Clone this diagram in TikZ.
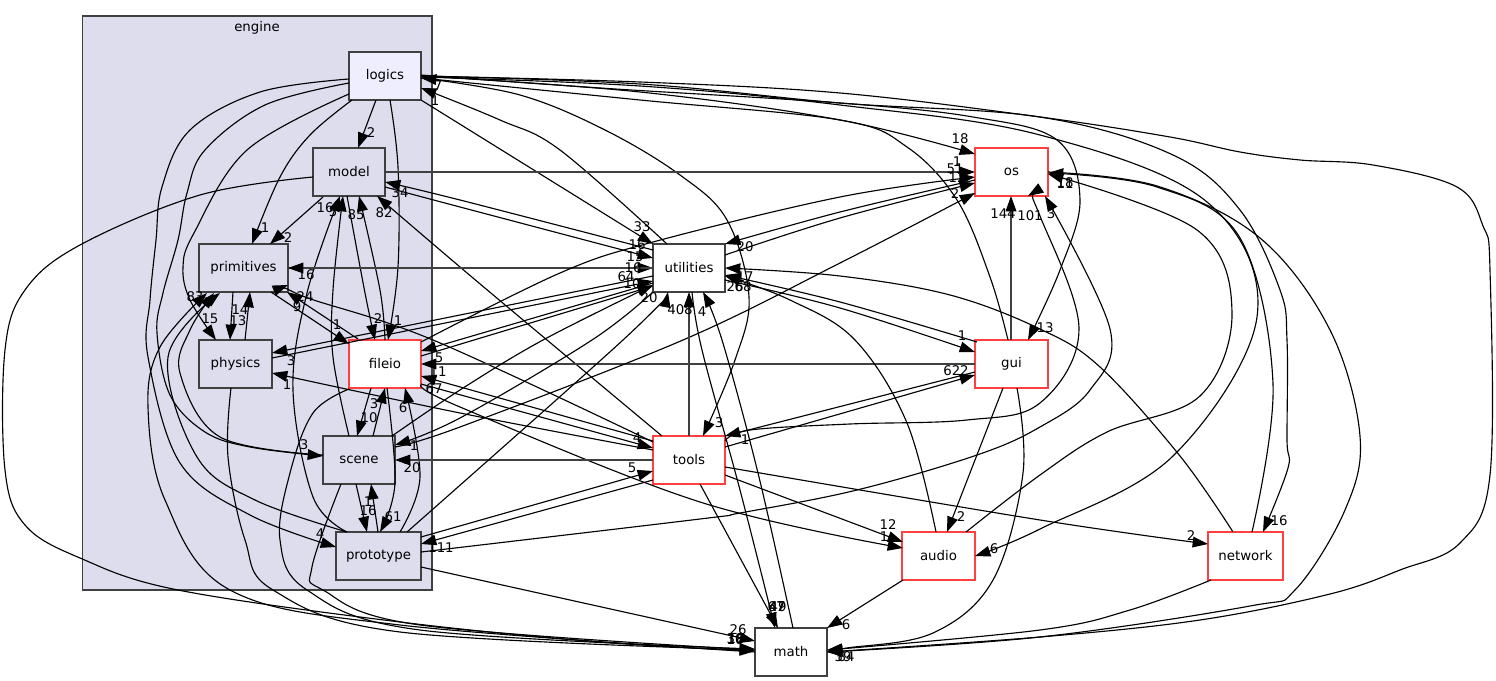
\documentclass[tikz,border=0pt]{standalone}
\usepackage{fontspec}
\setmainfont{DejaVu Sans}
\usetikzlibrary{arrows.meta}
\definecolor{clusterfill}{HTML}{DDDDEE}
\definecolor{logicfill}{HTML}{EEEEFF}
\definecolor{redline}{HTML}{FF4040}
\definecolor{boxline}{HTML}{404040}
\tikzset{
  dirbox/.style={draw=boxline,line width=1pt,inner sep=0pt,outer sep=0pt,minimum height=36pt,font=\fontsize{10}{12}\selectfont,text=black,align=center},
  inner/.style={dirbox,fill=clusterfill},
  topdir/.style={dirbox,fill=logicfill},
  redin/.style={dirbox,fill=white,draw=redline},
  plain/.style={dirbox,fill=white},
  edgeline/.style={draw=black,line width=0.85pt,-{Triangle[length=11.5pt,width=8pt]}},
  axisline/.style={draw=boxline,line width=1pt,-{Triangle[length=11.5pt,width=8pt,color=black,fill=black]}},
  lab/.style={inner sep=0pt,font=\fontsize{10}{12}\selectfont,text=black}
}
\newcount\labn
\newcommand\dirnode[6]{%
  \expandafter\gdef\csname cx#1\endcsname{#2}%
  \expandafter\gdef\csname cy#1\endcsname{#3}%
  \node[#5,minimum width=#4*0.75pt] (#1) at (#2,#3) {#6};}
\newcommand\Ed[7]{\draw[edgeline] plot[smooth,tension=0.6] coordinates {([shift={(#2-\csname cx#1\endcsname,#3-\csname cy#1\endcsname)}]#1.center) #4 ([shift={(#6-\csname cx#5\endcsname,#7-\csname cy#5\endcsname)}]#5.center)};}
\newcommand\Ev[6]{\draw[axisline] ([shift={(#2-\csname cx#1\endcsname,#3-\csname cy#1\endcsname)}]#1.center) -- ([shift={(#5-\csname cx#4\endcsname,#6-\csname cy#4\endcsname)}]#4.center);}
\newcommand\Lb[3]{\global\advance\labn by 1 \node[lab] (lab\the\labn) at (#1,#2) {#3};}
\begin{document}
\begin{tikzpicture}[x=0.75pt,y=-0.75pt]
\useasboundingbox (0,0) rectangle (1496,681);
\node[draw=boxline,line width=1pt,fill=clusterfill,inner sep=0pt,outer sep=0pt,minimum width=262.1pt,minimum height=430.5pt] (engine) at (257.25,303) {};
\node[lab] (enginetitle) at (257,28) {engine};
\dirnode{logics}{385}{76}{72}{topdir}{logics}
\dirnode{model}{349}{172}{72}{inner}{model}
\dirnode{primitives}{243.5}{268}{89}{inner}{primitives}
\dirnode{physics}{235.5}{364}{73}{inner}{physics}
\dirnode{fileio}{385}{364}{72}{redin}{fileio}
\dirnode{scene}{359}{460}{72}{inner}{scene}
\dirnode{prototype}{378.5}{556}{85}{inner}{prototype}
\dirnode{utilities}{689}{268}{72}{plain}{utilities}
\dirnode{os}{1011.5}{172}{73}{redin}{os}
\dirnode{gui}{1011.5}{364}{73}{redin}{gui}
\dirnode{tools}{689}{460}{72}{redin}{tools}
\dirnode{audio}{938.5}{556}{73}{redin}{audio}
\dirnode{network}{1245.5}{556}{75}{redin}{network}
\dirnode{math}{791}{652}{72}{plain}{math}
% logics
\Ed{logics}{349}{79}{(260,92) (190,130) (162,187) (156,240) (150,300) (148,357) (180,463) (250,515)}{prototype}{336}{547}
\Ed{logics}{349}{83}{(265,105) (205,150) (187,193) (178,240) (163,293) (157,333) (170,395) (205,432) (250,447)}{scene}{323}{456}
\Ed{logics}{349}{94}{(247,150) (194,233) (183,267) (190,300)}{physics}{216}{340}
\Ed{logics}{352}{100}{(310,135) (280,177)}{primitives}{252}{244}
\Ed{logics}{376}{100}{}{model}{358}{148}
\Ed{logics}{390}{100}{(398,167) (398,267)}{fileio}{388}{340}
\Ed{logics}{421}{75}{(600,88) (840,103) (973,117) (1057,140) (1080,200) (1060,270)}{gui}{1028}{340}
\Ed{logics}{421}{76}{(640,92) (840,120)}{os}{975}{154}
\Ed{logics}{421}{100}{}{utilities}{653}{244}
\Ed{logics}{421}{78}{(520,95) (605,130) (680,175) (727,220) (749,297) (735,360)}{tools}{703}{436}
\Ed{logics}{421}{76}{(640,82) (840,93) (1040,117) (1170,137) (1240,152) (1300,160) (1373,165) (1457,187) (1483,226) (1490,270) (1490,475) (1460,543) (1400,570) (1330,594) (1200,620) (1040,637)}{math}{827}{652}
\Ed{logics}{421}{76}{(640,84) (840,103) (1040,117) (1173,155) (1240,210) (1280,290) (1287,340) (1287,440) (1288,468)}{network}{1263}{532}
\Ed{logics}{421}{77}{(640,86) (840,105) (1040,135) (1207,202) (1257,317) (1173,456) (1040,529)}{audio}{975}{556}
\Ed{gui}{1008}{340}{(990,277) (957,200) (907,147) (840,120) (640,100)}{logics}{421}{78}
\Ed{utilities}{667}{244}{(560,150) (500,120)}{logics}{421}{88}
% model
\Ev{model}{385}{172}{os}{975}{172}
\Ed{model}{313}{177}{(200,195) (80,245) (25,290) (5,350) (5,470) (25,525) (80,558) (178,590) (400,622) (600,642)}{math}{755}{651}
\Ed{model}{323}{197}{}{primitives}{270}{244}
\Ed{model}{347}{196}{(365,293)}{fileio}{375}{340}
\Ed{fileio}{385}{340}{(380,290)}{model}{359}{196}
\Ed{prototype}{347}{532}{(313,497) (293,390) (307,293)}{model}{340}{196}
\Ed{scene}{349}{436}{(333,357) (333,290)}{model}{343}{196}
\Ed{tools}{662}{436}{(547,340) (460,267)}{model}{377}{196}
\Ed{utilities}{653}{250}{(460,200)}{model}{385}{182}
\Ed{model}{385}{187}{(460,207)}{utilities}{653}{258}
% primitives
\Ev{primitives}{288}{268}{utilities}{653}{268}
\Ev{utilities}{653}{268}{primitives}{288}{268}
\Ed{primitives}{233}{292}{}{physics}{230}{340}
\Ed{physics}{245}{340}{}{primitives}{250}{292}
\Ed{primitives}{271}{292}{}{fileio}{349}{344}
\Ed{fileio}{358}{339}{}{primitives}{287}{292}
\Ed{tools}{653}{442}{(433,340) (305,297)}{primitives}{288}{285}
\Ed{math}{755}{652}{(400,625) (230,590) (165,500) (148,407) (160,347)}{primitives}{207}{293}
\Ed{scene}{323}{455}{(220,437) (180,373) (190,330)}{primitives}{214}{293}
\Ed{prototype}{347}{532}{(255,500) (197,457) (168,357)}{primitives}{220}{293}
% physics
\Ed{physics}{231}{388}{(228,457) (245,540) (273,590) (400,632)}{math}{755}{650}
\Ed{utilities}{653}{276}{}{physics}{272}{353}
\Ed{physics}{272}{358}{}{utilities}{653}{281}
\Ed{tools}{653}{450}{(460,413)}{physics}{272}{373}
% fileio
\Ed{fileio}{371}{388}{}{scene}{357}{436}
\Ed{scene}{373}{436}{}{fileio}{385}{388}
\Ed{fileio}{387}{388}{(395,483)}{prototype}{380}{532}
\Ed{prototype}{400}{532}{(420,477)}{fileio}{405}{388}
\Ed{fileio}{349}{389}{(313,413) (290,473) (280,540) (307,590) (420,630)}{math}{755}{649}
\Ed{fileio}{421}{356}{}{utilities}{653}{286}
\Ed{utilities}{653}{283}{}{fileio}{421}{351}
\Ed{fileio}{421}{342}{(560,273) (653,242) (840,197)}{os}{975}{177}
\Ed{tools}{653}{441}{}{fileio}{421}{376}
\Ed{fileio}{421}{384}{}{tools}{653}{448}
\Ed{fileio}{421}{385}{(460,407) (700,502)}{audio}{903}{548}
\Ev{gui}{975}{364}{fileio}{421}{364}
% scene
\Ed{scene}{341}{484}{(312,567) (323,590) (420,625)}{math}{755}{650}
\Ed{scene}{356}{484}{}{prototype}{367}{532}
\Ed{prototype}{378}{532}{}{scene}{371}{484}
\Ev{tools}{653}{460}{scene}{395}{460}
\Ed{utilities}{653}{292}{(592,340) (460,418)}{scene}{395}{445}
\Ed{scene}{392}{436}{(460,390) (543,340)}{utilities}{653}{285}
\Ed{scene}{395}{447}{(460,427) (683,340) (840,263)}{os}{975}{193}
% prototype
\Ed{prototype}{407}{532}{(623,340)}{utilities}{668}{292}
\Ed{prototype}{421}{537}{}{tools}{653}{471}
\Ed{tools}{653}{480}{}{prototype}{421}{544}
\Ed{prototype}{421}{567}{}{math}{755}{641}
\Ed{prototype}{421}{552}{(700,519) (740,513) (857,490) (977,455) (1040,427) (1090,390) (1110,329)}{os}{1045}{196}
% tools
\Ev{tools}{689}{436}{utilities}{689}{292}
\Ed{tools}{700}{484}{}{math}{778}{628}
\Ed{gui}{975}{372}{}{tools}{725}{436}
\Ed{tools}{725}{447}{}{gui}{975}{375}
\Ed{tools}{725}{441}{(750,430) (850,424) (967,420) (1040,403) (1079,329) (1040,216)}{os}{1028}{196}
\Ed{tools}{725}{467}{(1040,520)}{network}{1208}{544}
\Ed{tools}{725}{475}{}{audio}{903}{542}
% utilities and math
\Ed{utilities}{692}{292}{(702,350) (740,490)}{math}{775}{628}
\Ed{math}{793}{628}{(758,473) (722,340)}{utilities}{703}{292}
% gui
\Ed{gui}{1017}{388}{(1023,473) (993,580) (933,633) (847,648)}{math}{827}{651}
\Ed{gui}{1003}{388}{}{audio}{947}{532}
\Ev{gui}{1011}{340}{os}{1011}{196}
\Ed{os}{975}{180}{(840,212)}{utilities}{725}{244}
\Ed{utilities}{725}{255}{(840,218)}{os}{975}{183}
\Ed{gui}{977}{342}{(840,302)}{utilities}{725}{275}
\Ed{utilities}{725}{280}{(840,308)}{gui}{975}{352}
% audio
\Ed{audio}{966}{532}{(1040,475) (1107,432) (1200,396) (1232,313) (1197,230)}{os}{1048}{174}
\Ed{audio}{936}{532}{(907,423) (855,340) (790,300)}{utilities}{725}{276}
\Ed{audio}{903}{580}{}{math}{827}{628}
% network
\Ed{network}{1233}{532}{(1180,456) (1100,367) (1040,329) (950,295) (840,276)}{utilities}{725}{268}
\Ed{network}{1252}{532}{(1273,384) (1240,238) (1157,187)}{os}{1048}{173}
\Ed{network}{1211}{580}{(1130,610) (1040,630)}{math}{827}{650}
\Ed{os}{1048}{172}{(1157,186) (1260,238) (1330,330) (1360,436) (1345,510) (1295,590) (1250,606) (1040,637)}{math}{827}{652}
% labels
\Lb{371}{133}{2}\Lb{265}{228}{1}\Lb{288}{238}{2}\Lb{306}{275}{16}\Lb{325}{208}{16}\Lb{333}{212}{5}
\Lb{356}{215}{85}\Lb{384}{213}{82}\Lb{400}{193}{34}\Lb{195}{297}{83}\Lb{305}{297}{24}\Lb{297}{307}{9}
\Lb{210}{319}{15}\Lb{240}{310}{14}\Lb{238}{321}{13}\Lb{337}{325}{1}\Lb{378}{319}{2}\Lb{398}{321}{1}
\Lb{291}{361}{3}\Lb{287}{385}{1}\Lb{439}{358}{5}\Lb{438}{372}{11}\Lb{434}{389}{67}\Lb{374}{404}{3}
\Lb{369}{418}{10}\Lb{403}{408}{6}\Lb{304}{445}{3}\Lb{414}{446}{1}\Lb{412}{468}{20}\Lb{368}{502}{1}
\Lb{368}{511}{16}\Lb{393}{517}{61}\Lb{320}{534}{4}\Lb{441}{548}{111}
\Lb{642}{227}{33}\Lb{637}{245}{16}\Lb{635}{257}{15}\Lb{633}{268}{16}\Lb{626}{277}{64}\Lb{632}{284}{10}
\Lb{649}{298}{20}\Lb{680}{310}{408}\Lb{702}{312}{4}\Lb{745}{247}{20}\Lb{745}{277}{17}\Lb{735}{287}{26}\Lb{743}{287}{68}
\Lb{637}{438}{4}\Lb{632}{468}{5}\Lb{719}{423}{3}\Lb{745}{440}{1}\Lb{956}{371}{622}\Lb{962}{336}{1}
\Lb{1045}{328}{13}\Lb{960}{139}{18}\Lb{957}{162}{1}\Lb{955}{169}{51}\Lb{957}{178}{12}\Lb{955}{194}{2}
\Lb{1003}{214}{144}\Lb{1030}{216}{101}\Lb{1051}{214}{3}\Lb{1065}{183}{18}\Lb{1065}{184}{11}
\Lb{888}{525}{12}\Lb{884}{537}{1}\Lb{961}{517}{2}\Lb{994}{549}{6}\Lb{846}{625}{6}\Lb{1279}{521}{16}\Lb{1191}{536}{2}
\Lb{738}{630}{26}\Lb{735}{639}{30}\Lb{736}{639}{18}\Lb{735}{640}{16}\Lb{777}{607}{47}\Lb{778}{607}{49}\Lb{776}{607}{67}
\Lb{843}{657}{39}\Lb{846}{657}{84}\Lb{438}{86}{7}\Lb{435}{101}{1}
\end{tikzpicture}
\end{document}
